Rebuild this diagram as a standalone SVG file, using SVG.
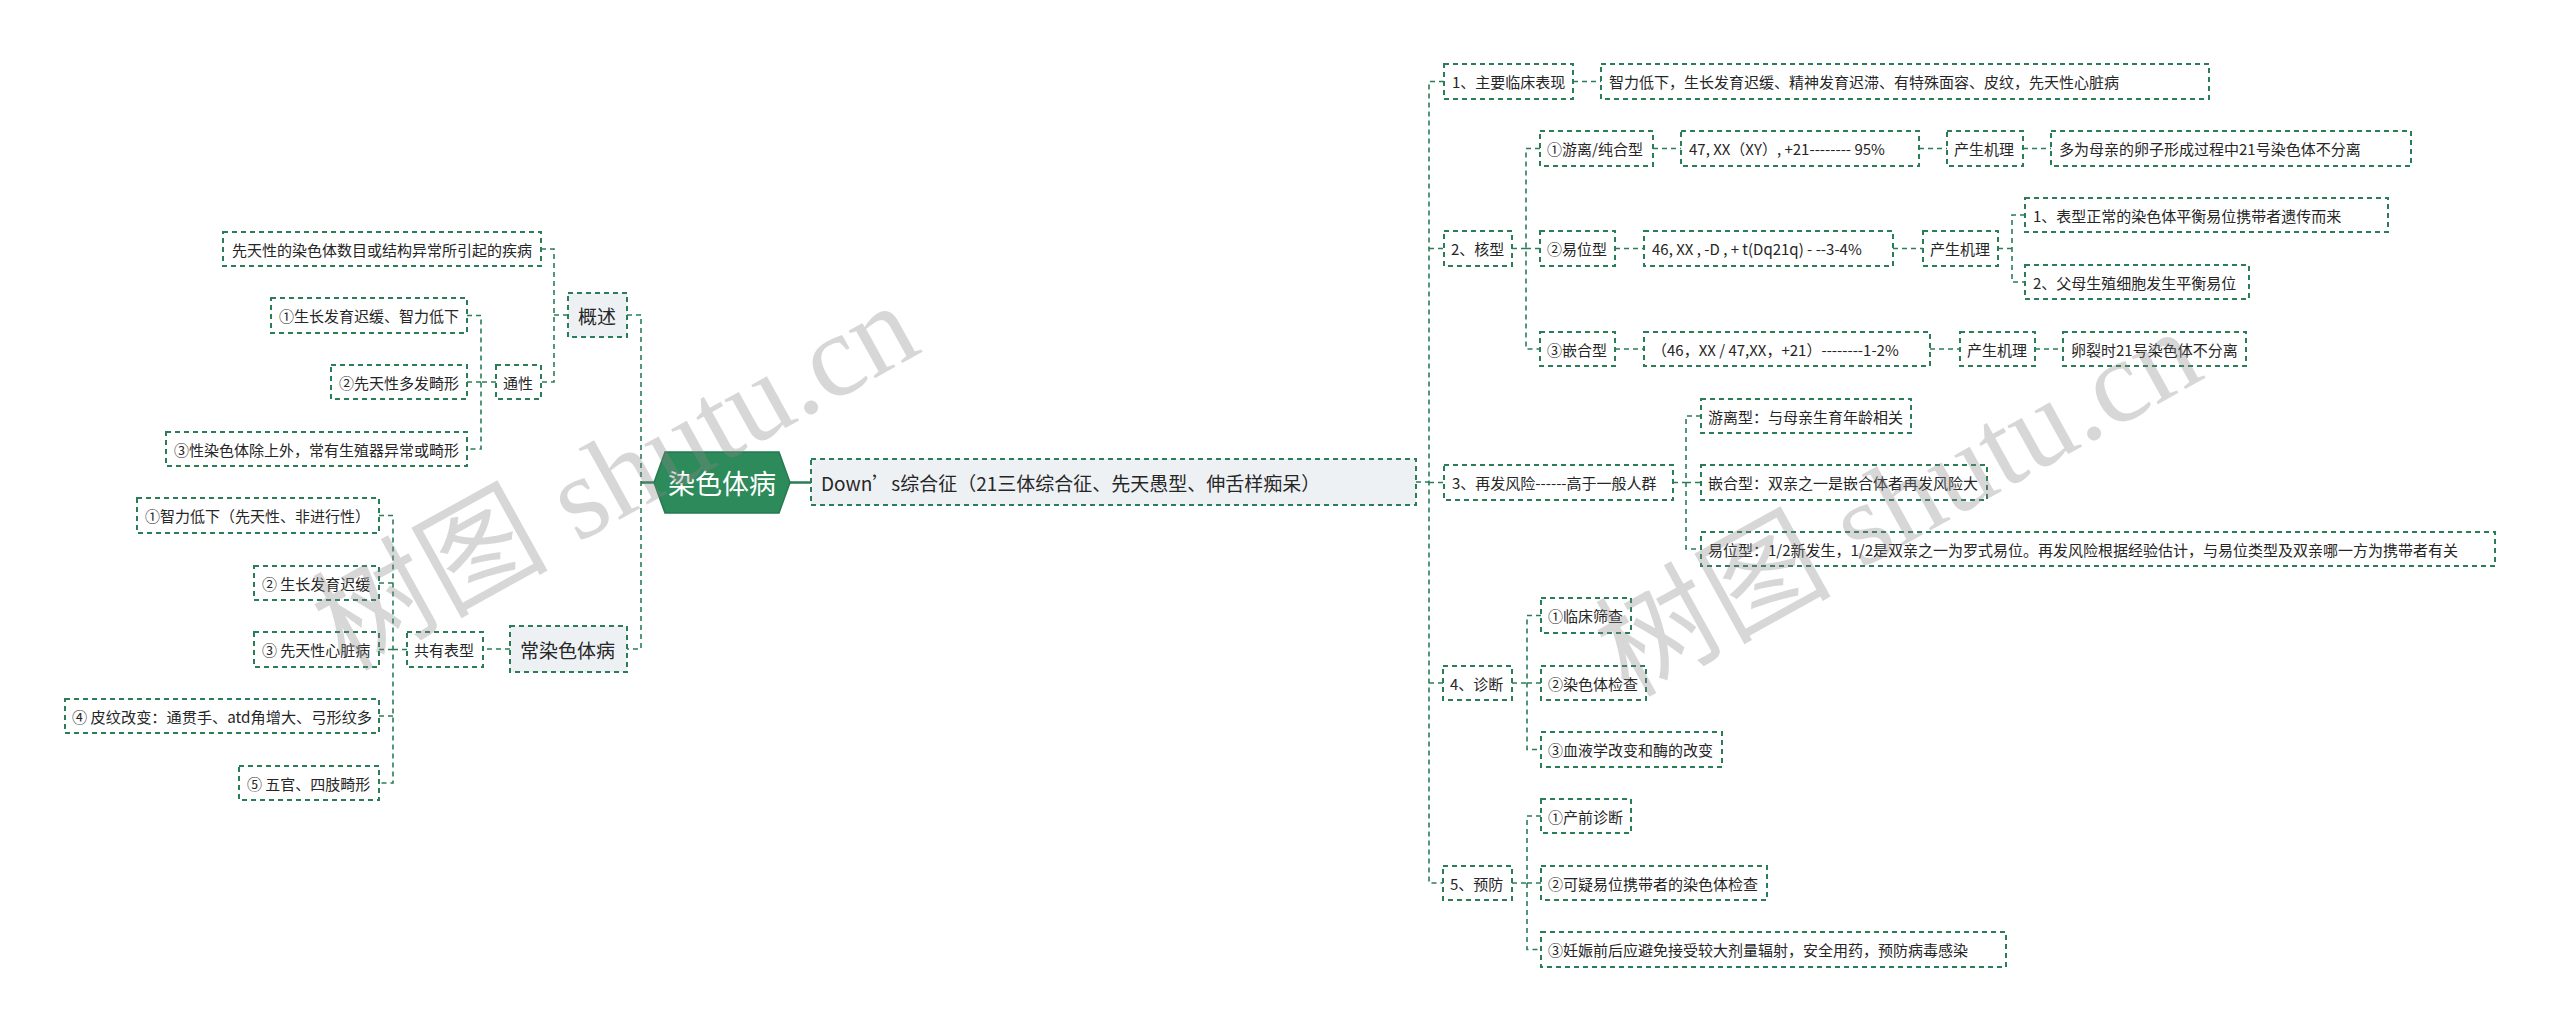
<svg xmlns="http://www.w3.org/2000/svg" width="2560" height="1032" viewBox="0 0 2560 1032">
<style>
.b{fill:#ffffff;stroke:#2a7d57;stroke-width:2;stroke-dasharray:5 4}
.b1{fill:#eef1f4;stroke:#2a7d57;stroke-width:2;stroke-dasharray:5 4}
.c{fill:none;stroke:#2a7d57;stroke-width:1.6;stroke-dasharray:5 4}
.s{fill:none;stroke:#2a7d57;stroke-width:2.5}
.t{font-family:"Noto Sans CJK SC","Liberation Sans",sans-serif;font-size:15px;fill:#262626;dominant-baseline:central}
.t1{font-family:"Noto Sans CJK SC","Liberation Sans",sans-serif;font-size:19px;fill:#262626;dominant-baseline:central}
.tr{font-family:"Noto Sans CJK SC","Liberation Sans",sans-serif;font-size:27px;fill:#ffffff;dominant-baseline:central;text-anchor:middle}
.wm{font-family:"Liberation Serif","Noto Sans CJK SC",serif;font-size:118px;fill:#888888;opacity:0.33}
</style>
<rect x="0" y="0" width="2560" height="1032" fill="#ffffff"/>

<g id="connectors">
<path class="s" d="M654,482.5 H641 M790,482.5 H811"/>
<path class="c" d="M627,315 H641 V649 H627"/>
<path class="c" d="M568,315 H554 M541,249 H554 V382 H541"/>
<path class="c" d="M496,382 H481 M467,315.5 H481 V449 H467 M481,382 H467"/>
<path class="c" d="M510,649 H483"/>
<path class="c" d="M407,649.5 H393 M379,515.5 H393 V783 H379 M393,583 H379 M393,649.5 H379 M393,716 H379"/>
<path class="c" d="M1416,482 H1429 M1444,81.5 H1429 V883 H1443 M1429,248.5 H1444 M1429,482.5 H1444 M1429,683 H1443"/>
<path class="c" d="M1573,81.5 H1601"/>
<path class="c" d="M1512,248.5 H1526 M1540,148.5 H1526 V349 H1540 M1526,248.5 H1540"/>
<path class="c" d="M1653,148.5 H1681 M1919,148.5 H1947 M2023,148.5 H2051"/>
<path class="c" d="M1615,248.5 H1644 M1893,248.5 H1923 M1998,248.5 H2012 M2025,215 H2012 V282 H2025"/>
<path class="c" d="M1615,349 H1644 M1930,349 H1960 M2035,349 H2063"/>
<path class="c" d="M1673,482.5 H1686 M1701,416 H1686 V549 H1701 M1686,482.5 H1701"/>
<path class="c" d="M1512,683 H1527 M1541,615.5 H1527 V749.5 H1541 M1527,683 H1541"/>
<path class="c" d="M1512,883 H1527 M1541,816 H1527 V949.5 H1541 M1527,883 H1541"/>
</g>

<g id="root"><polygon points="654,482.5 665,452 779,452 790,482.5 779,513 665,513" fill="#2d8a5a" stroke="#267a4f" stroke-width="1.5"/><text class="tr" x="722" y="482.5">染色体病</text></g>

<g id="n-gaishu"><rect class="b1" x="568" y="293" width="59" height="44"/><text class="t1" x="578" y="315">概述</text></g>
<g id="n-def"><rect class="b" x="223" y="232" width="318" height="34"/><text class="t" x="232" y="249">先天性的染色体数目或结构异常所引起的疾病</text></g>
<g id="n-tongxing"><rect class="b" x="496" y="365" width="45" height="34"/><text class="t" x="503" y="382">通性</text></g>
<g id="n-tx1"><rect class="b" x="271" y="298" width="196" height="35"/><text class="t" x="279" y="315.5">①生长发育迟缓、智力低下</text></g>
<g id="n-tx2"><rect class="b" x="331" y="365" width="136" height="34"/><text class="t" x="339" y="382">②先天性多发畸形</text></g>
<g id="n-tx3"><rect class="b" x="166" y="432" width="301" height="34"/><text class="t" x="174" y="449">③性染色体除上外，常有生殖器异常或畸形</text></g>

<g id="n-changran"><rect class="b1" x="510" y="626" width="117" height="46"/><text class="t1" x="520" y="649">常染色体病</text></g>
<g id="n-gongyou"><rect class="b" x="407" y="632" width="76" height="35"/><text class="t" x="414" y="649.5">共有表型</text></g>
<g id="n-gy1"><rect class="b" x="137" y="498" width="242" height="35"/><text class="t" x="145" y="515.5">①智力低下（先天性、非进行性）</text></g>
<g id="n-gy2"><rect class="b" x="254" y="566" width="125" height="34"/><text class="t" x="262" y="583">② 生长发育迟缓</text></g>
<g id="n-gy3"><rect class="b" x="254" y="632" width="125" height="35"/><text class="t" x="262" y="649.5">③ 先天性心脏病</text></g>
<g id="n-gy4"><rect class="b" x="65" y="699" width="314" height="34"/><text class="t" x="72" y="716" textLength="300" lengthAdjust="spacingAndGlyphs">④ 皮纹改变：通贯手、atd角增大、弓形纹多</text></g>
<g id="n-gy5"><rect class="b" x="239" y="766" width="140" height="34"/><text class="t" x="247" y="783">⑤ 五官、四肢畸形</text></g>

<g id="n-down"><rect class="b1" x="811" y="459" width="605" height="46"/><text class="t1" x="821" y="482">Down’s综合征（21三体综合征、先天愚型、伸舌样痴呆）</text></g>

<g id="r1"><rect class="b" x="1444" y="64" width="129" height="35"/><text class="t" x="1452" y="81.5">1、主要临床表现</text></g>
<g id="r1a"><rect class="b" x="1601" y="64" width="608" height="35"/><text class="t" x="1609" y="81.5">智力低下，生长发育迟缓、精神发育迟滞、有特殊面容、皮纹，先天性心脏病</text></g>

<g id="r2"><rect class="b" x="1444" y="231" width="68" height="35"/><text class="t" x="1451" y="248.5">2、核型</text></g>
<g id="r2a"><rect class="b" x="1540" y="131" width="113" height="35"/><text class="t" x="1547" y="148.5">①游离/纯合型</text></g>
<g id="r2a1"><rect class="b" x="1681" y="131" width="238" height="35"/><text class="t" x="1689" y="148.5">47, XX（XY）, +21-------- 95%</text></g>
<g id="r2a2"><rect class="b" x="1947" y="131" width="76" height="35"/><text class="t" x="1954" y="148.5">产生机理</text></g>
<g id="r2a3"><rect class="b" x="2051" y="131" width="360" height="35"/><text class="t" x="2059" y="148.5">多为母亲的卵子形成过程中21号染色体不分离</text></g>
<g id="r2b"><rect class="b" x="1540" y="231" width="75" height="35"/><text class="t" x="1547" y="248.5">②易位型</text></g>
<g id="r2b1"><rect class="b" x="1644" y="231" width="249" height="35"/><text class="t" x="1652" y="248.5">46, XX , -D , + t(Dq21q) - --3-4%</text></g>
<g id="r2b2"><rect class="b" x="1923" y="231" width="75" height="35"/><text class="t" x="1930" y="248.5">产生机理</text></g>
<g id="r2b3"><rect class="b" x="2025" y="198" width="363" height="34"/><text class="t" x="2033" y="215">1、表型正常的染色体平衡易位携带者遗传而来</text></g>
<g id="r2b4"><rect class="b" x="2025" y="265" width="224" height="34"/><text class="t" x="2033" y="282">2、父母生殖细胞发生平衡易位</text></g>
<g id="r2c"><rect class="b" x="1540" y="332" width="75" height="34"/><text class="t" x="1547" y="349">③嵌合型</text></g>
<g id="r2c1"><rect class="b" x="1644" y="332" width="286" height="34"/><text class="t" x="1652" y="349">（46，XX / 47,XX，+21）--------1-2%</text></g>
<g id="r2c2"><rect class="b" x="1960" y="332" width="75" height="34"/><text class="t" x="1967" y="349">产生机理</text></g>
<g id="r2c3"><rect class="b" x="2063" y="332" width="183" height="34"/><text class="t" x="2071" y="349">卵裂时21号染色体不分离</text></g>

<g id="r3"><rect class="b" x="1444" y="465" width="229" height="35"/><text class="t" x="1452" y="482.5">3、再发风险------高于一般人群</text></g>
<g id="r3a"><rect class="b" x="1701" y="399" width="210" height="34"/><text class="t" x="1708" y="416">游离型：与母亲生育年龄相关</text></g>
<g id="r3b"><rect class="b" x="1701" y="465" width="286" height="35"/><text class="t" x="1708" y="482.5">嵌合型：双亲之一是嵌合体者再发风险大</text></g>
<g id="r3c"><rect class="b" x="1701" y="532" width="794" height="34"/><text class="t" x="1708" y="549">易位型：1/2新发生，1/2是双亲之一为罗式易位。再发风险根据经验估计，与易位类型及双亲哪一方为携带者有关</text></g>

<g id="r4"><rect class="b" x="1443" y="666" width="69" height="34"/><text class="t" x="1450" y="683">4、诊断</text></g>
<g id="r4a"><rect class="b" x="1541" y="598" width="90" height="35"/><text class="t" x="1548" y="615.5">①临床筛查</text></g>
<g id="r4b"><rect class="b" x="1541" y="666" width="105" height="34"/><text class="t" x="1548" y="683">②染色体检查</text></g>
<g id="r4c"><rect class="b" x="1541" y="732" width="181" height="35"/><text class="t" x="1548" y="749.5">③血液学改变和酶的改变</text></g>

<g id="r5"><rect class="b" x="1443" y="866" width="69" height="34"/><text class="t" x="1450" y="883">5、预防</text></g>
<g id="r5a"><rect class="b" x="1541" y="799" width="90" height="34"/><text class="t" x="1548" y="816">①产前诊断</text></g>
<g id="r5b"><rect class="b" x="1541" y="866" width="226" height="34"/><text class="t" x="1548" y="883">②可疑易位携带者的染色体检查</text></g>
<g id="r5c"><rect class="b" x="1541" y="932" width="465" height="35"/><text class="t" x="1548" y="949.5">③妊娠前后应避免接受较大剂量辐射，安全用药，预防病毒感染</text></g>

<g id="watermark">
<text class="wm" transform="translate(345,672) rotate(-29)">树图 shutu.cn</text>
<text class="wm" transform="translate(1628,698) rotate(-29)">树图 shutu.cn</text>
</g>
</svg>
